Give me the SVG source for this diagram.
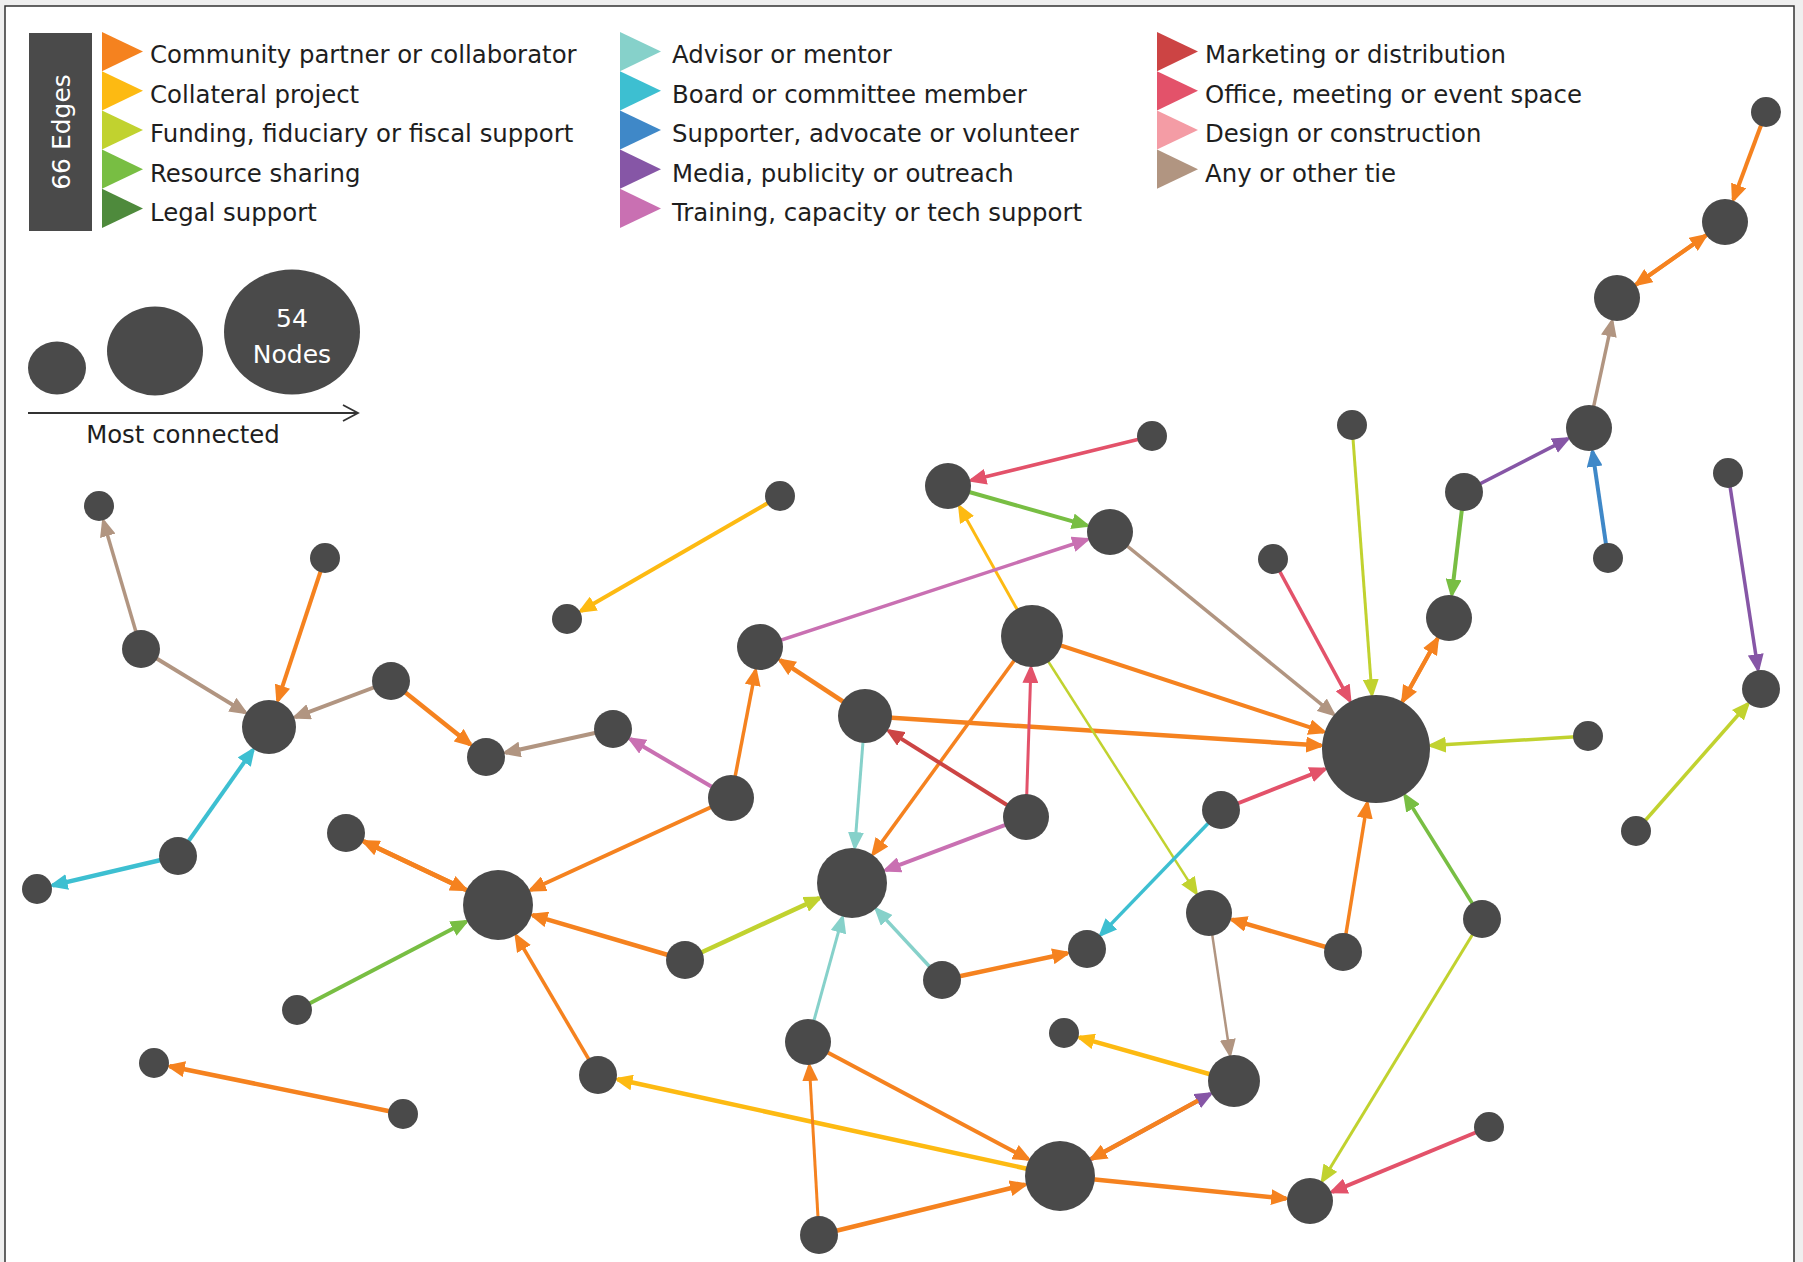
<svg xmlns="http://www.w3.org/2000/svg" width="1803" height="1262" viewBox="0 0 1803 1262">
<defs>
<style>
.node{fill:#4a4a4a}
.lbl{font-family:"DejaVu Sans","Liberation Sans",sans-serif;font-size:24.4px;fill:#1e1e1e}
.wt{font-family:"DejaVu Sans","Liberation Sans",sans-serif;font-size:25px;fill:#ffffff;text-anchor:middle}
#edges line{stroke-width:4;fill:none}
.or{stroke:#F5821F}.co{stroke:#FDBA12}.fu{stroke:#C1D22F}.re{stroke:#78BE43}.ad{stroke:#86D1CA}.bo{stroke:#3DBFD1}.su{stroke:#3F88C8}.me{stroke:#8656A6}.tr{stroke:#C970B2}.ma{stroke:#CC4444}.of{stroke:#E3526A}.ta{stroke:#B19581}
.or{marker-end:url(#m-or)}.co{marker-end:url(#m-co)}.fu{marker-end:url(#m-fu)}.re{marker-end:url(#m-re)}.ad{marker-end:url(#m-ad)}.bo{marker-end:url(#m-bo)}.su{marker-end:url(#m-su)}.me{marker-end:url(#m-me)}.tr{marker-end:url(#m-tr)}.ma{marker-end:url(#m-ma)}.of{marker-end:url(#m-of)}.ta{marker-end:url(#m-ta)}
#edges line.w25{stroke-width:2.5}#edges line.w3{stroke-width:3}#edges line.w35{stroke-width:3.5}#edges line.w45{stroke-width:4.5}
</style>
<path id="ah" d="M0,0 L19,8 L0,16 Z"/>
<path id="flag" d="M0,0 L41,19.6 L0,39.2 Z"/>
<marker id="m-or" markerUnits="userSpaceOnUse" markerWidth="20" markerHeight="16" refX="15" refY="8" orient="auto"><use href="#ah" fill="#F5821F"/></marker>
<marker id="m-co" markerUnits="userSpaceOnUse" markerWidth="20" markerHeight="16" refX="15" refY="8" orient="auto"><use href="#ah" fill="#FDBA12"/></marker>
<marker id="m-fu" markerUnits="userSpaceOnUse" markerWidth="20" markerHeight="16" refX="15" refY="8" orient="auto"><use href="#ah" fill="#C1D22F"/></marker>
<marker id="m-re" markerUnits="userSpaceOnUse" markerWidth="20" markerHeight="16" refX="15" refY="8" orient="auto"><use href="#ah" fill="#78BE43"/></marker>
<marker id="m-ad" markerUnits="userSpaceOnUse" markerWidth="20" markerHeight="16" refX="15" refY="8" orient="auto"><use href="#ah" fill="#86D1CA"/></marker>
<marker id="m-bo" markerUnits="userSpaceOnUse" markerWidth="20" markerHeight="16" refX="15" refY="8" orient="auto"><use href="#ah" fill="#3DBFD1"/></marker>
<marker id="m-su" markerUnits="userSpaceOnUse" markerWidth="20" markerHeight="16" refX="15" refY="8" orient="auto"><use href="#ah" fill="#3F88C8"/></marker>
<marker id="m-me" markerUnits="userSpaceOnUse" markerWidth="20" markerHeight="16" refX="15" refY="8" orient="auto"><use href="#ah" fill="#8656A6"/></marker>
<marker id="m-tr" markerUnits="userSpaceOnUse" markerWidth="20" markerHeight="16" refX="15" refY="8" orient="auto"><use href="#ah" fill="#C970B2"/></marker>
<marker id="m-ma" markerUnits="userSpaceOnUse" markerWidth="20" markerHeight="16" refX="15" refY="8" orient="auto"><use href="#ah" fill="#CC4444"/></marker>
<marker id="m-of" markerUnits="userSpaceOnUse" markerWidth="20" markerHeight="16" refX="15" refY="8" orient="auto"><use href="#ah" fill="#E3526A"/></marker>
<marker id="m-ta" markerUnits="userSpaceOnUse" markerWidth="20" markerHeight="16" refX="15" refY="8" orient="auto"><use href="#ah" fill="#B19581"/></marker>
<marker id="m-open" markerUnits="userSpaceOnUse" markerWidth="20" markerHeight="20" refX="16" refY="10" orient="auto"><path d="M1,2 L16,10 L1,18" fill="none" stroke="#333" stroke-width="1.8"/></marker>
</defs>
<rect x="0" y="0" width="1803" height="1262" fill="#efefef"/>
<rect x="5" y="6" width="1789" height="1270" fill="#ffffff" stroke="#333" stroke-width="1.5"/>

<g id="legend-edges">
<rect x="29" y="33" width="63" height="198" fill="#4a4a4a"/>
<text class="wt" transform="translate(61,132) rotate(-90)" y="9">66 Edges</text>
<use href="#flag" x="102" y="32" fill="#F5821F"/>
<use href="#flag" x="102" y="71.2" fill="#FDBA12"/>
<use href="#flag" x="102" y="110.4" fill="#C1D22F"/>
<use href="#flag" x="102" y="149.6" fill="#78BE43"/>
<use href="#flag" x="102" y="188.8" fill="#4E8A3C"/>
<text class="lbl" x="150" y="63">Community partner or collaborator</text>
<text class="lbl" x="150" y="102.5">Collateral project</text>
<text class="lbl" x="150" y="142">Funding, fiduciary or fiscal support</text>
<text class="lbl" x="150" y="181.5">Resource sharing</text>
<text class="lbl" x="150" y="221">Legal support</text>
<use href="#flag" x="620" y="32" fill="#86D1CA"/>
<use href="#flag" x="620" y="71.2" fill="#3DBFD1"/>
<use href="#flag" x="620" y="110.4" fill="#3F88C8"/>
<use href="#flag" x="620" y="149.6" fill="#8656A6"/>
<use href="#flag" x="620" y="188.8" fill="#C970B2"/>
<text class="lbl" x="672" y="63">Advisor or mentor</text>
<text class="lbl" x="672" y="102.5">Board or committee member</text>
<text class="lbl" x="672" y="142">Supporter, advocate or volunteer</text>
<text class="lbl" x="672" y="181.5">Media, publicity or outreach</text>
<text class="lbl" x="672" y="221">Training, capacity or tech support</text>
<use href="#flag" x="1157" y="32" fill="#CC4444"/>
<use href="#flag" x="1157" y="71.2" fill="#E3526A"/>
<use href="#flag" x="1157" y="110.4" fill="#F49CA5"/>
<use href="#flag" x="1157" y="149.6" fill="#B19581"/>
<text class="lbl" x="1205" y="63">Marketing or distribution</text>
<text class="lbl" x="1205" y="102.5">Office, meeting or event space</text>
<text class="lbl" x="1205" y="142">Design or construction</text>
<text class="lbl" x="1205" y="181.5">Any or other tie</text>
</g>

<g id="legend-nodes">
<ellipse class="node" cx="57" cy="368" rx="29" ry="26.5"/>
<ellipse class="node" cx="155" cy="351" rx="48" ry="44.5"/>
<ellipse class="node" cx="292" cy="332" rx="68" ry="62.5"/>
<text class="wt" x="292" y="327">54</text>
<text class="wt" x="292" y="363">Nodes</text>
<line x1="28" y1="413" x2="358" y2="413" stroke="#333" stroke-width="1.8" marker-end="url(#m-open)"/>
<text class="lbl" x="183" y="443" text-anchor="middle">Most connected</text>
</g>

<g id="edges">
<line class="or" x1="1766" y1="112" x2="1733.4" y2="199.5"/>
<line class="or" x1="1725" y1="222" x2="1636.6" y2="284.2"/>
<line class="or" x1="1617" y1="298" x2="1705.4" y2="235.8"/>
<line class="ta w35" x1="1589" y1="428" x2="1612" y2="321.5"/>
<line class="me w35" x1="1464" y1="492" x2="1567.6" y2="438.9"/>
<line class="su" x1="1608" y1="558" x2="1592.5" y2="451.7"/>
<line class="re" x1="1464" y1="492" x2="1451.8" y2="594.2"/>
<line class="or" x1="1449" y1="618" x2="1402.8" y2="701"/>
<line class="or" x1="1376" y1="749" x2="1437.3" y2="639"/>
<line class="fu w3" x1="1352" y1="425" x2="1371.9" y2="694.2"/>
<line class="of w35" x1="1273" y1="559" x2="1349.8" y2="700.6"/>
<line class="ta w35" x1="1110" y1="532" x2="1333.4" y2="714.2"/>
<line class="or" x1="1032" y1="636" x2="1323.7" y2="731.8"/>
<line class="or w45" x1="865" y1="716" x2="1321.1" y2="745.5"/>
<line class="of" x1="1221" y1="810" x2="1324.8" y2="769.1"/>
<line class="fu w35" x1="1588" y1="736" x2="1430.9" y2="745.6"/>
<line class="or w35" x1="1343" y1="952" x2="1367.2" y2="803.3"/>
<line class="re w35" x1="1482" y1="919" x2="1405.1" y2="795.7"/>
<line class="me w35" x1="1728" y1="473" x2="1758" y2="669.2"/>
<line class="fu w35" x1="1636" y1="831" x2="1747.8" y2="704"/>
<line class="fu w3" x1="1482" y1="919" x2="1322.5" y2="1180.5"/>
<line class="of" x1="1489" y1="1127" x2="1332.2" y2="1191.8"/>
<line class="or w45" x1="1060" y1="1176" x2="1286.1" y2="1198.6"/>
<line class="me" x1="1060" y1="1176" x2="1210.3" y2="1093.9"/>
<line class="or w45" x1="1198" y1="1100.6" x2="1091.6" y2="1158.8"/>
<line class="ta w25" x1="1209" y1="913" x2="1230" y2="1054.3"/>
<line class="co w45" x1="1234" y1="1081" x2="1079.4" y2="1037.3"/>
<line class="or w45" x1="1343" y1="952" x2="1232" y2="919.7"/>
<line class="fu w25" x1="1032" y1="636" x2="1196.1" y2="892.8"/>
<line class="bo w35" x1="1221" y1="810" x2="1100.9" y2="934.6"/>
<line class="or w45" x1="942" y1="980" x2="1067.4" y2="953.2"/>
<line class="co w45" x1="1060" y1="1176" x2="617.5" y2="1079.3"/>
<line class="or" x1="808" y1="1042" x2="1028.2" y2="1159.1"/>
<line class="or w45" x1="819" y1="1235" x2="1025" y2="1184.6"/>
<line class="or w3" x1="819" y1="1235" x2="809.4" y2="1066"/>
<line class="ad w3" x1="808" y1="1042" x2="842.4" y2="917.7"/>
<line class="ad w35" x1="942" y1="980" x2="876.5" y2="909.4"/>
<line class="fu w45" x1="685" y1="960" x2="819.3" y2="898.1"/>
<line class="tr" x1="1026" y1="817" x2="885.7" y2="870.2"/>
<line class="ad w3" x1="865" y1="716" x2="854.8" y2="847.1"/>
<line class="or w35" x1="1032" y1="636" x2="873.2" y2="853.9"/>
<line class="ma" x1="1026" y1="817" x2="888.7" y2="730.9"/>
<line class="of w3" x1="1026" y1="817" x2="1030.9" y2="668"/>
<line class="or w45" x1="865" y1="716" x2="780.1" y2="660.2"/>
<line class="co w3" x1="1032" y1="636" x2="959.7" y2="506.9"/>
<line class="of w35" x1="1152" y1="436" x2="971.3" y2="480.3"/>
<line class="re" x1="948" y1="486" x2="1086.9" y2="525.4"/>
<line class="tr w35" x1="760" y1="647" x2="1087.2" y2="539.5"/>
<line class="or w35" x1="731" y1="798" x2="755.5" y2="670.6"/>
<line class="tr" x1="731" y1="798" x2="630.3" y2="739.1"/>
<line class="or" x1="731" y1="798" x2="530.7" y2="890"/>
<line class="or w45" x1="685" y1="960" x2="532.5" y2="915.2"/>
<line class="or w35" x1="598" y1="1075" x2="516.3" y2="936"/>
<line class="re" x1="297" y1="1010" x2="466.1" y2="921.7"/>
<line class="or w45" x1="498" y1="905" x2="364.1" y2="841.6"/>
<line class="or w45" x1="346" y1="833" x2="465.5" y2="889.6"/>
<line class="or w45" x1="403" y1="1114" x2="169.7" y2="1066.2"/>
<line class="bo w45" x1="178" y1="856" x2="52.6" y2="885.4"/>
<line class="bo" x1="178" y1="856" x2="252.9" y2="749.9"/>
<line class="ta" x1="141" y1="649" x2="245.1" y2="712.4"/>
<line class="ta w35" x1="141" y1="649" x2="103.5" y2="521.4"/>
<line class="or" x1="325" y1="558" x2="277.8" y2="700.4"/>
<line class="ta" x1="391" y1="681" x2="295.2" y2="717.1"/>
<line class="or w45" x1="391" y1="681" x2="470.4" y2="744.5"/>
<line class="ta" x1="613" y1="729" x2="505.5" y2="752.7"/>
<line class="co" x1="780" y1="496" x2="580.9" y2="611"/>
</g>

<g id="n1"><circle class="node" cx="1766" cy="112" r="15"/></g>
<g id="n2"><circle class="node" cx="1725" cy="222" r="23"/></g>
<g id="n3"><circle class="node" cx="1617" cy="298" r="23"/></g>
<g id="n4"><circle class="node" cx="1589" cy="428" r="23"/></g>
<g id="n5"><circle class="node" cx="1352" cy="425" r="15"/></g>
<g id="n6"><circle class="node" cx="1464" cy="492" r="19"/></g>
<g id="n7"><circle class="node" cx="1608" cy="558" r="15"/></g>
<g id="n8"><circle class="node" cx="1728" cy="473" r="15"/></g>
<g id="n9"><circle class="node" cx="1273" cy="559" r="15"/></g>
<g id="n10"><circle class="node" cx="1449" cy="618" r="23"/></g>
<g id="n11"><circle class="node" cx="1376" cy="749" r="54"/></g>
<g id="n12"><circle class="node" cx="1588" cy="736" r="15"/></g>
<g id="n13"><circle class="node" cx="1761" cy="689" r="19"/></g>
<g id="n14"><circle class="node" cx="1636" cy="831" r="15"/></g>
<g id="n15"><circle class="node" cx="1221" cy="810" r="19"/></g>
<g id="n16"><circle class="node" cx="1482" cy="919" r="19"/></g>
<g id="n17"><circle class="node" cx="1343" cy="952" r="19"/></g>
<g id="n18"><circle class="node" cx="1209" cy="913" r="23"/></g>
<g id="n19"><circle class="node" cx="1087" cy="949" r="19"/></g>
<g id="n20"><circle class="node" cx="1234" cy="1081" r="26"/></g>
<g id="n21"><circle class="node" cx="1064" cy="1033" r="15"/></g>
<g id="n22"><circle class="node" cx="1489" cy="1127" r="15"/></g>
<g id="n23"><circle class="node" cx="1310" cy="1201" r="23"/></g>
<g id="n24"><circle class="node" cx="1060" cy="1176" r="35"/></g>
<g id="n25"><circle class="node" cx="819" cy="1235" r="19"/></g>
<g id="n26"><circle class="node" cx="808" cy="1042" r="23"/></g>
<g id="n27"><circle class="node" cx="942" cy="980" r="19"/></g>
<g id="n28"><circle class="node" cx="852" cy="883" r="35"/></g>
<g id="n29"><circle class="node" cx="1026" cy="817" r="23"/></g>
<g id="n30"><circle class="node" cx="865" cy="716" r="27"/></g>
<g id="n31"><circle class="node" cx="1032" cy="636" r="31"/></g>
<g id="n32"><circle class="node" cx="760" cy="647" r="23"/></g>
<g id="n33"><circle class="node" cx="731" cy="798" r="23"/></g>
<g id="n34"><circle class="node" cx="685" cy="960" r="19"/></g>
<g id="n35"><circle class="node" cx="498" cy="905" r="35"/></g>
<g id="n36"><circle class="node" cx="598" cy="1075" r="19"/></g>
<g id="n37"><circle class="node" cx="403" cy="1114" r="15"/></g>
<g id="n38"><circle class="node" cx="154" cy="1063" r="15"/></g>
<g id="n39"><circle class="node" cx="297" cy="1010" r="15"/></g>
<g id="n40"><circle class="node" cx="346" cy="833" r="19"/></g>
<g id="n41"><circle class="node" cx="178" cy="856" r="19"/></g>
<g id="n42"><circle class="node" cx="37" cy="889" r="15"/></g>
<g id="n43"><circle class="node" cx="269" cy="727" r="27"/></g>
<g id="n44"><circle class="node" cx="141" cy="649" r="19"/></g>
<g id="n45"><circle class="node" cx="99" cy="506" r="15"/></g>
<g id="n46"><circle class="node" cx="325" cy="558" r="15"/></g>
<g id="n47"><circle class="node" cx="391" cy="681" r="19"/></g>
<g id="n48"><circle class="node" cx="486" cy="757" r="19"/></g>
<g id="n49"><circle class="node" cx="613" cy="729" r="19"/></g>
<g id="n50"><circle class="node" cx="567" cy="619" r="15"/></g>
<g id="n51"><circle class="node" cx="780" cy="496" r="15"/></g>
<g id="n52"><circle class="node" cx="948" cy="486" r="23"/></g>
<g id="n53"><circle class="node" cx="1110" cy="532" r="23"/></g>
<g id="n54"><circle class="node" cx="1152" cy="436" r="15"/></g>
</svg>
